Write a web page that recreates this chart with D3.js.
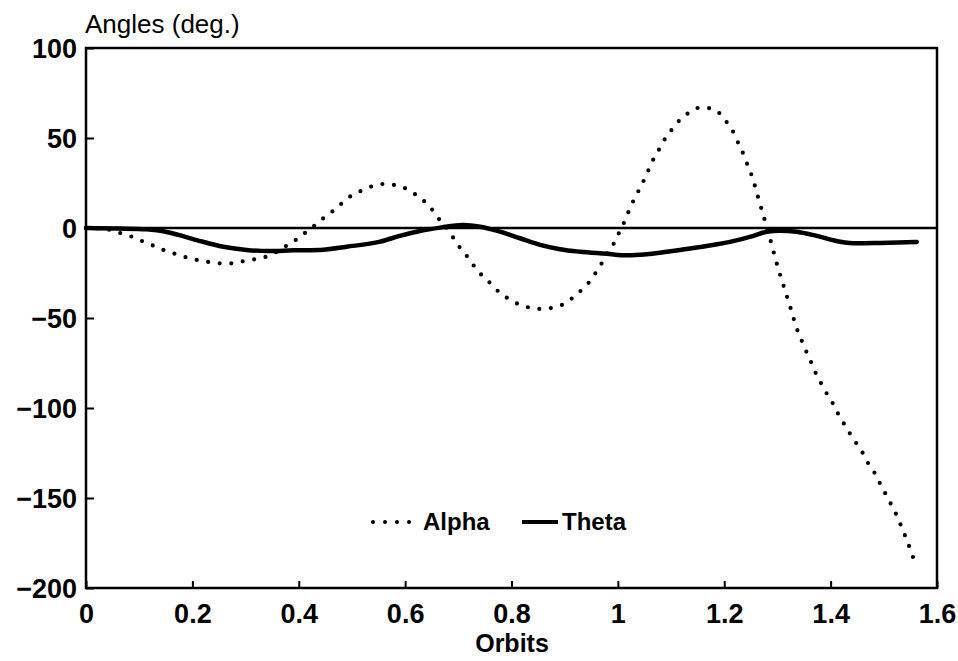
<!DOCTYPE html>
<html>
<head>
<meta charset="utf-8">
<script src="https://cdn.jsdelivr.net/npm/d3@7"></script>
<style>
  html, body { margin: 0; padding: 0; background: #fff; }
  svg { display: block; }
  text { font-family: "Liberation Sans", Arial, sans-serif; fill: #000; }
</style>
</head>
<body>
<svg id="chart" width="958" height="661"></svg>
<script>
// ---- data ----
const xTicks = [0, 0.2, 0.4, 0.6, 0.8, 1, 1.2, 1.4, 1.6];
const xTickLabels = ["0", "0.2", "0.4", "0.6", "0.8", "1", "1.2", "1.4", "1.6"];
const yTicks = [100, 50, 0, -50, -100, -150, -200];
const yTickLabels = ["100", "50", "0", "\u221250", "\u2212100", "\u2212150", "\u2212200"];

const alphaX = [0, 0.04, 0.064, 0.086, 0.105, 0.125, 0.145, 0.167, 0.188, 0.209, 0.231, 0.252, 0.274, 0.295, 0.316, 0.337, 0.357, 0.376, 0.396, 0.414, 0.431, 0.446, 0.464, 0.481, 0.498, 0.518, 0.539, 0.560, 0.583, 0.603, 0.620, 0.638, 0.653, 0.666, 0.681, 0.692, 0.704, 0.718, 0.731, 0.745, 0.761, 0.777, 0.795, 0.814, 0.835, 0.856, 0.877, 0.899, 0.917, 0.933, 0.948, 0.960, 0.971, 0.982, 0.994, 1.004, 1.013, 1.021, 1.030, 1.040, 1.050, 1.059, 1.068, 1.079, 1.090, 1.103, 1.117, 1.134, 1.153, 1.174, 1.193, 1.206, 1.218, 1.227, 1.236, 1.244, 1.252, 1.258, 1.264, 1.270, 1.276, 1.288, 1.299, 1.312, 1.325, 1.331, 1.338, 1.346, 1.355, 1.364, 1.372, 1.382, 1.393, 1.404, 1.414, 1.425, 1.436, 1.448, 1.460, 1.470, 1.482, 1.492, 1.502, 1.512, 1.522, 1.531, 1.539, 1.547, 1.554, 1.562];
const alphaY = [0, -0.8, -2.8, -4.8, -7.2, -9.6, -12.1, -14.3, -16.3, -17.8, -18.9, -19.6, -19.6, -18.5, -17.4, -16.1, -13.5, -10, -6.3, -2.2, 1.7, 5.4, 9.4, 13.7, 17.8, 20.7, 23.3, 24.4, 23.7, 21.7, 18.5, 14.3, 9.4, 4.1, -1.1, -6.1, -11.3, -16.3, -21.7, -26.5, -30.9, -35.7, -39.4, -42.4, -44.3, -45, -44.3, -42.1, -38.3, -34.1, -29.3, -24.1, -18.9, -13.3, -7.8, -1.5, 3.9, 9.8, 15.6, 21.3, 27.2, 33.2, 38.9, 44.4, 50.2, 55.2, 60.2, 64.1, 66.8, 66.5, 63.2, 58.2, 52.8, 46.7, 41, 34.8, 28.9, 23, 16.7, 10.6, 4.6, -7.9, -20, -32.6, -44.8, -50.9, -57.1, -62.9, -69.1, -75, -80.6, -86.3, -92.1, -97.4, -103.2, -108.7, -114.1, -119.4, -124.8, -130.4, -135.7, -141.5, -147, -152.6, -158.2, -164.4, -170.2, -176.3, -182.2, -187.8];

const thetaX = [0, 0.06, 0.114, 0.158, 0.208, 0.258, 0.302, 0.343, 0.390, 0.440, 0.490, 0.553, 0.590, 0.628, 0.666, 0.709, 0.741, 0.772, 0.816, 0.854, 0.891, 0.929, 0.979, 1.017, 1.054, 1.085, 1.117, 1.167, 1.217, 1.255, 1.280, 1.305, 1.336, 1.374, 1.418, 1.449, 1.493, 1.562];
const thetaY = [0, -0.3, -0.7, -2.6, -6.7, -10.4, -12.2, -12.8, -12.4, -12.2, -10.4, -7.6, -4.4, -1.7, 0.2, 1.7, 0.7, -1.5, -5.7, -9.4, -11.8, -13.2, -14.3, -15.2, -14.6, -13.5, -12.2, -10.0, -7.3, -4.4, -2.1, -1.5, -2.1, -4.4, -7.6, -8.5, -8.3, -7.8];

const seriesNames = ["Alpha", "Theta"];

// ---- layout ----
const svg = d3.select("#chart");
const plotLeft = 86, plotRight = 937, plotTop = 48, plotBottom = 588;

const x = d3.scaleLinear().domain([0, 1.6]).range([plotLeft, plotRight]);
const y = d3.scaleLinear().domain([-200, 100]).range([plotBottom, plotTop]);

// frame
svg.append("rect")
  .attr("x", plotLeft).attr("y", plotTop)
  .attr("width", plotRight - plotLeft).attr("height", plotBottom - plotTop)
  .attr("fill", "none").attr("stroke", "#000").attr("stroke-width", 2.5);

// zero line
svg.append("line")
  .attr("x1", x(0)).attr("x2", x(1.6))
  .attr("y1", y(0)).attr("y2", y(0))
  .attr("stroke", "#000").attr("stroke-width", 2.5);

// y axis ticks (inward) and labels
const yAxis = d3.axisLeft(y).tickValues(yTicks)
  .tickSize(-8).tickPadding(9)
  .tickFormat((d, i) => yTickLabels[i]);
const gy = svg.append("g").attr("transform", `translate(${plotLeft},0)`).call(yAxis);
gy.select(".domain").remove();
gy.selectAll(".tick line").attr("stroke", "#000").attr("stroke-width", 2);
gy.selectAll(".tick text")
  .attr("font-family", "Liberation Sans, Arial, sans-serif")
  .attr("font-size", 27).attr("font-weight", "bold").attr("fill", "#000")
  .attr("dy", "0.36em");

// x axis ticks (inward) and labels
const xAxis = d3.axisBottom(x).tickValues(xTicks)
  .tickSize(-7).tickPadding(0)
  .tickFormat((d, i) => xTickLabels[i]);
const gx = svg.append("g").attr("transform", `translate(0,${plotBottom})`).call(xAxis);
gx.select(".domain").remove();
gx.selectAll(".tick line").attr("stroke", "#000").attr("stroke-width", 2);
gx.selectAll(".tick text")
  .attr("font-family", "Liberation Sans, Arial, sans-serif")
  .attr("font-size", 27).attr("font-weight", "bold").attr("fill", "#000")
  .attr("y", 35).attr("dy", 0);

// axis titles
svg.append("text").attr("x", 85).attr("y", 33)
  .attr("font-size", 26).text("Angles (deg.)");
svg.append("text").attr("x", 512).attr("y", 652)
  .attr("text-anchor", "middle").attr("font-size", 25).attr("font-weight", "bold")
  .text("Orbits");

// series
const alphaData = alphaX.map((v, i) => [v, alphaY[i]]);
const thetaData = thetaX.map((v, i) => [v, thetaY[i]]);
const line = d3.line().x(d => x(d[0])).y(d => y(d[1])).curve(d3.curveMonotoneX);

svg.append("path").datum(alphaData)
  .attr("d", line).attr("fill", "none")
  .attr("stroke", "#000").attr("stroke-width", 4.2)
  .attr("stroke-linecap", "round").attr("stroke-dasharray", "0 11.6");

svg.append("path").datum(thetaData)
  .attr("d", line).attr("fill", "none")
  .attr("stroke", "#000").attr("stroke-width", 4.5)
  .attr("stroke-linecap", "round").attr("stroke-linejoin", "round");

// legend
const lg = svg.append("g");
lg.append("line").attr("x1", 373).attr("x2", 412).attr("y1", 522).attr("y2", 522)
  .attr("stroke", "#000").attr("stroke-width", 4)
  .attr("stroke-linecap", "round").attr("stroke-dasharray", "0 12");
lg.append("text").attr("x", 423).attr("y", 530).attr("font-size", 24).attr("font-weight", "bold")
  .text(seriesNames[0]);
lg.append("line").attr("x1", 522).attr("x2", 558).attr("y1", 522).attr("y2", 522)
  .attr("stroke", "#000").attr("stroke-width", 4);
lg.append("text").attr("x", 562).attr("y", 530).attr("font-size", 24).attr("font-weight", "bold")
  .text(seriesNames[1]);
</script>
</body>
</html>
